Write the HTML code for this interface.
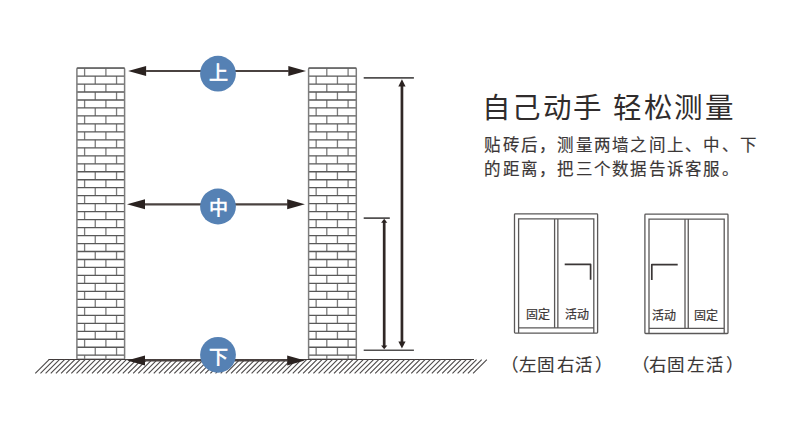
<!DOCTYPE html>
<html lang="zh-CN"><head><meta charset="utf-8"><style>
html,body{margin:0;padding:0;background:#fff;width:790px;height:435px;overflow:hidden}
body{position:relative;font-family:"Liberation Sans",sans-serif}
svg{position:absolute;left:0;top:0}
.t{position:absolute;white-space:nowrap;line-height:1}
.lab{font-size:12px;color:#3a3636;-webkit-text-stroke:0.2px #3a3636}
.c{position:absolute;color:#fff;width:36px;text-align:center;line-height:1}
</style></head><body>
<svg width="790" height="435" viewBox="0 0 790 435">
<g fill="none">
<path d="M84.60 68.10V76.07M105.90 68.10V76.07M95.25 76.07V84.05M116.55 76.07V84.05M84.60 84.05V92.02M105.90 84.05V92.02M95.25 92.02V100.00M116.55 92.02V100.00M84.60 100.00V107.97M105.90 100.00V107.97M95.25 107.97V115.95M116.55 107.97V115.95M84.60 115.95V123.92M105.90 115.95V123.92M95.25 123.92V131.90M116.55 123.92V131.90M84.60 131.90V139.87M105.90 131.90V139.87M95.25 139.87V147.85M116.55 139.87V147.85M84.60 147.85V155.82M105.90 147.85V155.82M95.25 155.82V163.80M116.55 155.82V163.80M84.60 163.80V171.77M105.90 163.80V171.77M95.25 171.77V179.75M116.55 171.77V179.75M84.60 179.75V187.72M105.90 179.75V187.72M95.25 187.72V195.70M116.55 187.72V195.70M84.60 195.70V203.67M105.90 195.70V203.67M95.25 203.67V211.65M116.55 203.67V211.65M84.60 211.65V219.62M105.90 211.65V219.62M95.25 219.62V227.60M116.55 219.62V227.60M84.60 227.60V235.57M105.90 227.60V235.57M95.25 235.57V243.55M116.55 235.57V243.55M84.60 243.55V251.52M105.90 243.55V251.52M95.25 251.52V259.50M116.55 251.52V259.50M84.60 259.50V267.47M105.90 259.50V267.47M95.25 267.47V275.45M116.55 267.47V275.45M84.60 275.45V283.42M105.90 275.45V283.42M95.25 283.42V291.40M116.55 283.42V291.40M84.60 291.40V299.38M105.90 291.40V299.38M95.25 299.38V307.35M116.55 299.38V307.35M84.60 307.35V315.33M105.90 307.35V315.33M95.25 315.33V323.30M116.55 315.33V323.30M84.60 323.30V331.28M105.90 323.30V331.28M95.25 331.28V339.25M116.55 331.28V339.25M84.60 339.25V347.23M105.90 339.25V347.23M95.25 347.23V355.20M116.55 347.23V355.20M84.60 355.20V359.20M105.90 355.20V359.20M326.80 68.10V76.07M348.10 68.10V76.07M316.15 76.07V84.05M337.45 76.07V84.05M326.80 84.05V92.02M348.10 84.05V92.02M316.15 92.02V100.00M337.45 92.02V100.00M326.80 100.00V107.97M348.10 100.00V107.97M316.15 107.97V115.95M337.45 107.97V115.95M326.80 115.95V123.92M348.10 115.95V123.92M316.15 123.92V131.90M337.45 123.92V131.90M326.80 131.90V139.87M348.10 131.90V139.87M316.15 139.87V147.85M337.45 139.87V147.85M326.80 147.85V155.82M348.10 147.85V155.82M316.15 155.82V163.80M337.45 155.82V163.80M326.80 163.80V171.77M348.10 163.80V171.77M316.15 171.77V179.75M337.45 171.77V179.75M326.80 179.75V187.72M348.10 179.75V187.72M316.15 187.72V195.70M337.45 187.72V195.70M326.80 195.70V203.67M348.10 195.70V203.67M316.15 203.67V211.65M337.45 203.67V211.65M326.80 211.65V219.62M348.10 211.65V219.62M316.15 219.62V227.60M337.45 219.62V227.60M326.80 227.60V235.57M348.10 227.60V235.57M316.15 235.57V243.55M337.45 235.57V243.55M326.80 243.55V251.52M348.10 243.55V251.52M316.15 251.52V259.50M337.45 251.52V259.50M326.80 259.50V267.47M348.10 259.50V267.47M316.15 267.47V275.45M337.45 267.47V275.45M326.80 275.45V283.42M348.10 275.45V283.42M316.15 283.42V291.40M337.45 283.42V291.40M326.80 291.40V299.38M348.10 291.40V299.38M316.15 299.38V307.35M337.45 299.38V307.35M326.80 307.35V315.33M348.10 307.35V315.33M316.15 315.33V323.30M337.45 315.33V323.30M326.80 323.30V331.28M348.10 323.30V331.28M316.15 331.28V339.25M337.45 331.28V339.25M326.80 339.25V347.23M348.10 339.25V347.23M316.15 347.23V355.20M337.45 347.23V355.20M326.80 355.20V359.20M348.10 355.20V359.20" stroke="#7c7c7c" stroke-width="1.3"/>
<path d="M76.9 76.07H124.6M76.9 84.05H124.6M76.9 92.02H124.6M76.9 100.00H124.6M76.9 107.97H124.6M76.9 115.95H124.6M76.9 123.92H124.6M76.9 131.90H124.6M76.9 139.87H124.6M76.9 147.85H124.6M76.9 155.82H124.6M76.9 163.80H124.6M76.9 171.77H124.6M76.9 179.75H124.6M76.9 187.72H124.6M76.9 195.70H124.6M76.9 203.67H124.6M76.9 211.65H124.6M76.9 219.62H124.6M76.9 227.60H124.6M76.9 235.57H124.6M76.9 243.55H124.6M76.9 251.52H124.6M76.9 259.50H124.6M76.9 267.47H124.6M76.9 275.45H124.6M76.9 283.42H124.6M76.9 291.40H124.6M76.9 299.38H124.6M76.9 307.35H124.6M76.9 315.33H124.6M76.9 323.30H124.6M76.9 331.28H124.6M76.9 339.25H124.6M76.9 347.23H124.6M76.9 355.20H124.6M308.6 76.07H356.3M308.6 84.05H356.3M308.6 92.02H356.3M308.6 100.00H356.3M308.6 107.97H356.3M308.6 115.95H356.3M308.6 123.92H356.3M308.6 131.90H356.3M308.6 139.87H356.3M308.6 147.85H356.3M308.6 155.82H356.3M308.6 163.80H356.3M308.6 171.77H356.3M308.6 179.75H356.3M308.6 187.72H356.3M308.6 195.70H356.3M308.6 203.67H356.3M308.6 211.65H356.3M308.6 219.62H356.3M308.6 227.60H356.3M308.6 235.57H356.3M308.6 243.55H356.3M308.6 251.52H356.3M308.6 259.50H356.3M308.6 267.47H356.3M308.6 275.45H356.3M308.6 283.42H356.3M308.6 291.40H356.3M308.6 299.38H356.3M308.6 307.35H356.3M308.6 315.33H356.3M308.6 323.30H356.3M308.6 331.28H356.3M308.6 339.25H356.3M308.6 347.23H356.3M308.6 355.20H356.3" stroke="#585858" stroke-width="1.3"/>
<rect x="76.9" y="68.1" width="47.70" height="291.10" rx="1" stroke="#7c7c7c" stroke-width="1.5"/>
<rect x="308.6" y="68.1" width="47.70" height="291.10" rx="1" stroke="#7c7c7c" stroke-width="1.5"/>
<path d="M76.9 68.1H124.6M308.6 68.1H356.3" stroke="#5e5e5e" stroke-width="1.3"/>
</g>
<path d="M48.5 359.5H474" stroke="#403a3a" stroke-width="1.2"/>
<path d="M49.10 359.6L35.30 373.4M54.25 359.6L40.45 373.4M59.40 359.6L45.60 373.4M64.55 359.6L50.75 373.4M69.70 359.6L55.90 373.4M74.85 359.6L61.05 373.4M80.00 359.6L66.20 373.4M85.15 359.6L71.35 373.4M90.30 359.6L76.50 373.4M95.45 359.6L81.65 373.4M100.60 359.6L86.80 373.4M105.75 359.6L91.95 373.4M110.90 359.6L97.10 373.4M116.05 359.6L102.25 373.4M121.20 359.6L107.40 373.4M126.35 359.6L112.55 373.4M131.50 359.6L117.70 373.4M136.65 359.6L122.85 373.4M141.80 359.6L128.00 373.4M146.95 359.6L133.15 373.4M152.10 359.6L138.30 373.4M157.25 359.6L143.45 373.4M162.40 359.6L148.60 373.4M167.55 359.6L153.75 373.4M172.70 359.6L158.90 373.4M177.85 359.6L164.05 373.4M183.00 359.6L169.20 373.4M188.15 359.6L174.35 373.4M193.30 359.6L179.50 373.4M198.45 359.6L184.65 373.4M203.60 359.6L189.80 373.4M208.75 359.6L194.95 373.4M213.90 359.6L200.10 373.4M219.05 359.6L205.25 373.4M224.20 359.6L210.40 373.4M229.35 359.6L215.55 373.4M234.50 359.6L220.70 373.4M239.65 359.6L225.85 373.4M244.80 359.6L231.00 373.4M249.95 359.6L236.15 373.4M255.10 359.6L241.30 373.4M260.25 359.6L246.45 373.4M265.40 359.6L251.60 373.4M270.55 359.6L256.75 373.4M275.70 359.6L261.90 373.4M280.85 359.6L267.05 373.4M286.00 359.6L272.20 373.4M291.15 359.6L277.35 373.4M296.30 359.6L282.50 373.4M301.45 359.6L287.65 373.4M306.60 359.6L292.80 373.4M311.75 359.6L297.95 373.4M316.90 359.6L303.10 373.4M322.05 359.6L308.25 373.4M327.20 359.6L313.40 373.4M332.35 359.6L318.55 373.4M337.50 359.6L323.70 373.4M342.65 359.6L328.85 373.4M347.80 359.6L334.00 373.4M352.95 359.6L339.15 373.4M358.10 359.6L344.30 373.4M363.25 359.6L349.45 373.4M368.40 359.6L354.60 373.4M373.55 359.6L359.75 373.4M378.70 359.6L364.90 373.4M383.85 359.6L370.05 373.4M389.00 359.6L375.20 373.4M394.15 359.6L380.35 373.4M399.30 359.6L385.50 373.4M404.45 359.6L390.65 373.4M409.60 359.6L395.80 373.4M414.75 359.6L400.95 373.4M419.90 359.6L406.10 373.4M425.05 359.6L411.25 373.4M430.20 359.6L416.40 373.4M435.35 359.6L421.55 373.4M440.50 359.6L426.70 373.4M445.65 359.6L431.85 373.4M450.80 359.6L437.00 373.4M455.95 359.6L442.15 373.4M461.10 359.6L447.30 373.4M466.25 359.6L452.45 373.4M471.40 359.6L457.60 373.4M476.55 359.6L462.75 373.4M481.70 359.6L467.90 373.4M486.85 359.6L473.05 373.4" stroke="#4f4c4c" stroke-width="1.15"/>
<path d="M146.10 71.0H288.70" stroke="#4a4240" stroke-width="2.2"/><path d="M128.10 71.0L146.10 66.0L146.10 76.0Z" fill="#2a2220"/><path d="M306.00 71.0L288.30 66.0L288.30 76.0Z" fill="#2a2220"/>
<path d="M145.00 204.3H287.60" stroke="#4a4240" stroke-width="2.2"/><path d="M127.00 204.3L145.00 199.3L145.00 209.3Z" fill="#2a2220"/><path d="M304.90 204.3L287.20 199.3L287.20 209.3Z" fill="#2a2220"/>
<path d="M145.00 360.4H287.60" stroke="#4a4240" stroke-width="2.2"/><path d="M127.00 360.4L145.00 355.4L145.00 365.4Z" fill="#2a2220"/><path d="M304.90 360.4L287.20 355.4L287.20 365.4Z" fill="#2a2220"/>
<g fill="#5581b4">
<circle cx="218" cy="73.7" r="17.9"/>
<circle cx="218" cy="206.5" r="17.9"/>
<circle cx="218" cy="354.8" r="17.9"/>
</g>
<g stroke="#525050" stroke-width="1.6" fill="none">
<path d="M363.7 77.9H413.9M363.7 218.1H389.8M363.7 350.2H413.9"/>
</g>
<g stroke="#302826" stroke-width="2.7">
<path d="M401.95 86V342M384.2 222V346"/>
</g>
<g fill="#2a2220">
<path d="M401.95 79.3L398.35 86.5H405.55Z"/>
<path d="M401.95 348.6L398.35 341.6H405.55Z"/>
<path d="M384.2 218.8L381.1 222.8H387.3Z"/>
<path d="M384.2 349.2L381.1 345.4H387.3Z"/>
</g>
<g fill="none" stroke="#5a5858" stroke-width="1.3"><rect x="514.50" y="213.80" width="83.10" height="119.30" rx="0.8"/><path d="M518.60 333.10V218.80H593.80V333.10M518.60 327.95H593.80M554.60 218.80V327.95M557.85 218.80V327.95"/></g>
<g fill="none" stroke="#5a5858" stroke-width="1.3"><rect x="644.90" y="214.20" width="83.10" height="119.30" rx="0.8"/><path d="M649.00 333.50V219.20H724.20V333.50M649.00 328.35H724.20M685.00 219.20V328.35M688.25 219.20V328.35"/></g>
<g fill="none" stroke="#3a3636" stroke-width="1.7" stroke-linejoin="round">
<path d="M564.7 264.4H590.6V279.7"/>
<path d="M677.7 264.6H651.8V279.9"/>
</g>
</svg>
<div class="c" style="left:200px;top:63.6px;font-size:19px;-webkit-text-stroke:0.7px #fff">上</div>
<div class="c" style="left:200px;top:199px;font-size:19px;font-weight:bold">中</div>
<div class="c" style="left:200px;top:348px;font-size:19px;-webkit-text-stroke:0.7px #fff">下</div>
<div class="t" style="left:481.8px;top:93.5px;font-size:28.5px;color:#302c2c;letter-spacing:1.5px">自己动手 轻松测量</div>
<div class="t" style="left:484.3px;top:134px;font-size:16.5px;color:#3a3636;line-height:23.6px;letter-spacing:1.25px;-webkit-text-stroke:0.15px #3a3636">贴砖后，测量两墙之间上、中、下<br>的距离，把三个数据告诉客服。</div>
<div class="t lab" style="left:525.5px;top:308.7px">固定</div>
<div class="t lab" style="left:564.5px;top:308.7px">活动</div>
<div class="t lab" style="left:652px;top:309.7px">活动</div>
<div class="t lab" style="left:694px;top:309.7px">固定</div>
<div class="t" style="left:501.2px;top:356.6px;font-size:17.5px;color:#3a3636;-webkit-text-stroke:0.15px #3a3636">（</div><div class="t" style="left:518.6px;top:356.6px;font-size:17.5px;color:#3a3636;-webkit-text-stroke:0.15px #3a3636">左</div><div class="t" style="left:536.5px;top:356.6px;font-size:17.5px;color:#3a3636;-webkit-text-stroke:0.15px #3a3636">固</div><div class="t" style="left:556.5px;top:356.6px;font-size:17.5px;color:#3a3636;-webkit-text-stroke:0.15px #3a3636">右</div><div class="t" style="left:574.9px;top:356.6px;font-size:17.5px;color:#3a3636;-webkit-text-stroke:0.15px #3a3636">活</div><div class="t" style="left:595.1px;top:356.6px;font-size:17.5px;color:#3a3636;-webkit-text-stroke:0.15px #3a3636">）</div>
<div class="t" style="left:631.9px;top:356.6px;font-size:17.5px;color:#3a3636;-webkit-text-stroke:0.15px #3a3636">（</div><div class="t" style="left:649.2px;top:356.6px;font-size:17.5px;color:#3a3636;-webkit-text-stroke:0.15px #3a3636">右</div><div class="t" style="left:667.2px;top:356.6px;font-size:17.5px;color:#3a3636;-webkit-text-stroke:0.15px #3a3636">固</div><div class="t" style="left:686.5px;top:356.6px;font-size:17.5px;color:#3a3636;-webkit-text-stroke:0.15px #3a3636">左</div><div class="t" style="left:706.2px;top:356.6px;font-size:17.5px;color:#3a3636;-webkit-text-stroke:0.15px #3a3636">活</div><div class="t" style="left:725.8px;top:356.6px;font-size:17.5px;color:#3a3636;-webkit-text-stroke:0.15px #3a3636">）</div>
</body></html>
